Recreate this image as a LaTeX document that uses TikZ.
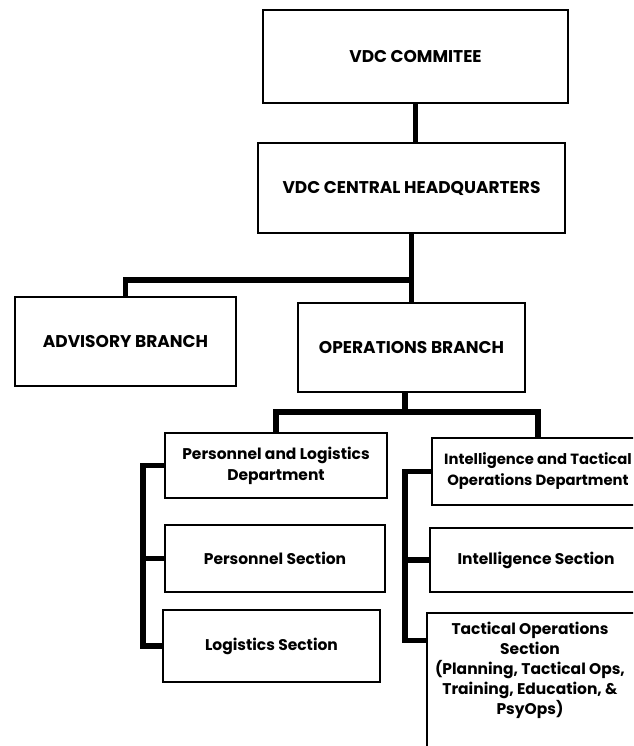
\documentclass[tikz,border=0pt]{standalone}
\usepackage{fontspec}
\setmainfont{Poppins}
\tikzset{
  box/.style={draw=black, line width=2.8pt, fill=white, inner sep=0pt, align=center, font=\bfseries},
  capsbox/.style={box, font=\bfseries\fontsize{17}{20}\selectfont},
  smallbox/.style={box, font=\bfseries\fontsize{15.5}{21}\selectfont},
  txt/.style={inner sep=0pt, align=center, font=\bfseries\fontsize{15.5}{20}\selectfont},
  conn/.style={draw=black, line width=5.5pt, line cap=rect}
}
\begin{document}
\begin{tikzpicture}[x=1pt, y=-1pt]
\clip (0,0) rectangle (633,746);
\fill[white] (0,0) rectangle (633,746);
% junction coordinates
\coordinate (j1) at (411.5,280);
\coordinate (j2) at (405,412);
\coordinate (bl) at (143,0);
\coordinate (br) at (405,0);
% boxes
\node[capsbox, minimum width=305pt, minimum height=93pt] (com) at (415.5,56.5) {VDC COMMITEE};
\node[capsbox, minimum width=307pt, minimum height=90pt] (hq) at (411.5,188) {VDC CENTRAL HEADQUARTERS};
\node[capsbox, minimum width=221pt, minimum height=89pt] (adv) at (125.5,341.5) {ADVISORY BRANCH};
\node[capsbox, minimum width=227pt, minimum height=89pt] (ops) at (411.5,347.5) {OPERATIONS BRANCH};
\node[smallbox, minimum width=222pt, minimum height=65pt] (pld) at (276,465.5) {Personnel and Logistics\\Department};
\node[smallbox, minimum width=220pt, minimum height=67pt] (ps) at (275,558.5) {Personnel Section};
\node[smallbox, minimum width=217pt, minimum height=72pt] (ls) at (271.5,646) {Logistics Section};
\node[smallbox, font=\bfseries\fontsize{14.8}{21}\selectfont, minimum width=212pt, minimum height=67pt] (itd) at (538,471.5) {Intelligence and Tactical\\Operations Department};
\node[smallbox, minimum width=212pt, minimum height=64pt] (is) at (536,560) {Intelligence Section};
\node[box, minimum width=215pt, minimum height=180pt] (tos) at (534.5,703) {};
\node[txt] (tost) at (530,670) {Tactical Operations\\Section\\(Planning, Tactical Ops,\\Training, Education, \&\\PsyOps)};
% connectors
\draw[conn] (com.south) -- (com.south |- hq.north);
\draw[conn] (hq.south) -- (ops.north);
\draw[conn] (adv.north) |- (j1);
\draw[conn] (ops.south -| j2) -- (j2);
\draw[conn] (pld.north) |- (j2) -| (itd.north);
\draw[conn] (pld.west) -- (pld.west -| bl) |- (ls.west);
\draw[conn] (ps.west -| bl) -- (ps.west);
\draw[conn] (itd.west) -- (itd.west -| br) |- ([yshift=-29pt]tos.north west);
\draw[conn] (is.west -| br) -- (is.west);
\end{tikzpicture}
\end{document}
